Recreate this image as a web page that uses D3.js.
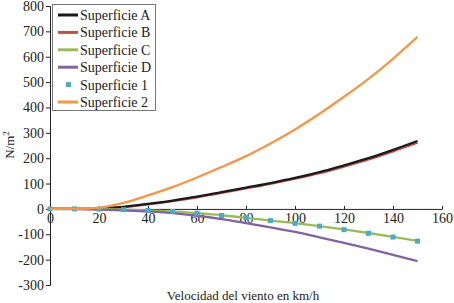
<!doctype html>
<html lang="es">
<head>
  <meta charset="utf-8">
  <style>
    body { margin: 0; background: #fff; }
    .axis text { font: 14px "Liberation Serif", "DejaVu Serif", serif; fill: #222; }
    .axis path, .axis line { stroke: #222; }
    .label { font: 13px "Liberation Serif", "DejaVu Serif", serif; fill: #222; }
    .serie { fill: none; stroke-width: 2.3px; }
  </style>
  <script src="https://d3js.org/d3.v7.min.js"></script>
</head>
<body>
<script>
  // velocidad del viento (km/h)
  const velocidad = [0, 10, 20, 30, 40, 50, 60, 70, 80, 90, 100, 110, 120, 130, 140, 150];

  // presión (N/m²) por superficie
  const supA = [0, 0, 2, 8, 20, 33, 48, 66, 84, 102, 122, 145, 172, 200, 233, 268];
  const supB = [0, 0, 2, 7, 18, 31, 46, 63, 81, 99, 119, 141, 167, 195, 227, 261];
  const supC = [0, 0, -1, -3, -6, -10, -17, -25, -35, -46, -56, -68, -81, -95, -110, -126];
  const supD = [0, -1, -3, -6, -10, -17, -27, -40, -56, -73, -91, -112, -134, -157, -181, -206];
  const sup1 = [0, 0, -1, -3, -6, -10, -17, -26, -35, -46, -57, -68, -82, -96, -111, -127];
  const sup2 = [0, 0, 5, 24, 53, 86, 124, 165, 208, 258, 313, 375, 442, 513, 592, 678];

  const xTicks = [0, 20, 40, 60, 80, 100, 120, 140, 160];
  const yTicks = [-300, -200, -100, 0, 100, 200, 300, 400, 500, 600, 700, 800];

  const series = [
    { name: "Superficie B", values: supB, color: "#C0504D", type: "line", w: 2.5 },
    { name: "Superficie A", values: supA, color: "#1a1a1a", type: "line", w: 2.3 },
    { name: "Superficie C", values: supC, color: "#9BBB59", type: "line", w: 2.5 },
    { name: "Superficie D", values: supD, color: "#8064A2", type: "line", w: 2.3 },
    { name: "Superficie 1", values: sup1, color: "#4BACC6", type: "marker" },
    { name: "Superficie 2", values: sup2, color: "#F79646", type: "line", w: 1.8 }
  ];
  const legendOrder = ["Superficie A", "Superficie B", "Superficie C", "Superficie D", "Superficie 1", "Superficie 2"];

  const width = 454, height = 303;

  const svg = d3.select("body")
    .append("svg")
    .attr("width", width)
    .attr("height", height);

  const x = d3.scaleLinear().domain([0, 160]).range([50, 442]);
  const y = d3.scaleLinear().domain([-300, 800]).range([285, 6]);

  // eje Y
  svg.append("g")
    .attr("class", "axis")
    .attr("transform", `translate(${x(0)},0)`)
    .call(d3.axisLeft(y).tickValues(yTicks).tickSizeOuter(0).tickSize(4).tickPadding(2)
      .tickFormat(d => d < 0 ? "-" + Math.abs(d) : d));

  // eje X en y = 0
  svg.append("g")
    .attr("class", "axis")
    .attr("transform", `translate(0,${y(0)})`)
    .call(d3.axisBottom(x).tickValues(xTicks).tickSizeOuter(0).tickSizeInner(-3).tickPadding(4));

  const line = d3.line()
    .x((d, i) => x(velocidad[i]))
    .y(d => y(d))
    .curve(d3.curveMonotoneX);

  series.forEach(s => {
    if (s.type === "line") {
      svg.append("path")
        .datum(s.values)
        .attr("class", "serie")
        .attr("stroke", s.color)
        .attr("stroke-width", s.w)
        .attr("d", line);
    } else {
      svg.append("g")
        .selectAll("rect")
        .data(s.values)
        .join("rect")
        .attr("x", (d, i) => x(velocidad[i]) - 2.5)
        .attr("y", d => y(d) - 2.5)
        .attr("width", 5)
        .attr("height", 5)
        .attr("fill", s.color);
    }
  });

  // leyenda
  const legend = svg.append("g");
  legend.append("rect")
    .attr("x", 52.5).attr("y", 4.5)
    .attr("width", 103).attr("height", 106)
    .attr("fill", "#fff")
    .attr("stroke", "#777");

  legendOrder.forEach((name, i) => {
    const s = series.find(d => d.name === name);
    const cy = 15 + i * 17.4;
    if (s.type === "line") {
      legend.append("line")
        .attr("x1", 58).attr("x2", 78)
        .attr("y1", cy).attr("y2", cy)
        .attr("stroke", s.color)
        .attr("stroke-width", 3);
    } else {
      legend.append("rect")
        .attr("x", 66).attr("y", cy - 2.5)
        .attr("width", 5).attr("height", 5)
        .attr("fill", s.color);
    }
    legend.append("text")
      .attr("class", "label")
      .attr("x", 80)
      .attr("y", cy)
      .attr("dy", "0.35em")
      .style("font-size", "14px")
      .text(name);
  });

  // títulos de ejes
  svg.append("text")
    .attr("class", "label")
    .attr("transform", "translate(14,145) rotate(-90)")
    .attr("text-anchor", "middle")
    .html("N/m<tspan dy='-5' font-size='9'>2</tspan>");

  svg.append("text")
    .attr("class", "label")
    .attr("x", 243)
    .attr("y", 300)
    .attr("text-anchor", "middle")
    .text("Velocidad del viento en km/h");
</script>
</body>
</html>
